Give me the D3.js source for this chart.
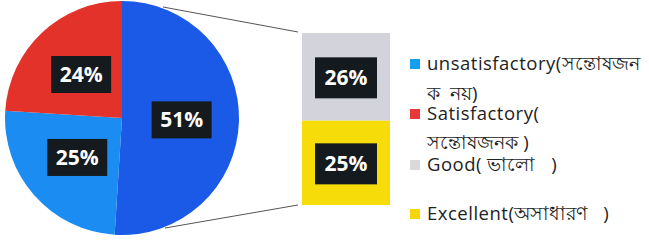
<!DOCTYPE html>
<html><head><meta charset="utf-8">
<script src="https://cdn.jsdelivr.net/npm/d3@7"></script>
<style>body{margin:0;background:#fff}svg{display:block}</style>
</head><body>
<script>
// Main pie: combined "other" slice + two categories
const pieLabels = ["Other", "unsatisfactory", "Satisfactory"];
const pieValues = [51, 25, 24];
const pieColors = ["#1a5ae6", "#1b8cf2", "#e2322a"];
// Secondary bar (breakdown of "Other")
const barLabels = ["Good", "Excellent"];
const barValues = [26, 25];
const barColors = ["#d3d3db", "#f6dc08"];
// Legend
const legendColors = ["#159ff0", "#e8383a", "#d9d9d9", "#f5d608"];
const legendLines = [
  ["unsatisfactory(সন্তোষজন", "ক  নয়)"],
  ["Satisfactory(", "সন্তোষজনক )"],
  ["Good( ভালো   )"],
  ["Excellent(অসাধারণ   )"]
];

const W = 649, H = 241;
const svg = d3.select("body").append("svg").attr("width", W).attr("height", H);

const cx = 122, cy = 118, R = 117;
const pie = d3.pie().sort(null).value(d => d)(pieValues);
const arc = d3.arc().innerRadius(0).outerRadius(R);
const labelArc = d3.arc().innerRadius(R * 0.51).outerRadius(R * 0.51);

const g = svg.append("g").attr("transform", `translate(${cx},${cy})`);
g.selectAll("path").data(pie).join("path")
  .attr("d", arc).attr("fill", (d, i) => pieColors[i]);

function labelBox(parent, x, y, text, w, h) {
  const gg = parent.append("g").attr("transform", `translate(${x},${y})`);
  gg.append("rect").attr("x", -w / 2).attr("y", -h / 2).attr("width", w).attr("height", h)
    .attr("fill", "#141a1e");
  gg.append("text").attr("text-anchor", "middle").attr("dy", "0.36em")
    .attr("fill", "#fff").attr("font-family", "Open Sans, Noto Sans, sans-serif")
    .attr("font-weight", 700).attr("font-size", 21).text(text);
}
pie.forEach((d, i) => {
  const [x, y] = labelArc.centroid(d);
  labelBox(g, x, y, d.value + "%", 60, 37);
});

// Secondary stacked bar
const bx0 = 302, bx1 = 390, byTop = 33, byBot = 205;
const barTotal = d3.sum(barValues);
const y = d3.scaleLinear().domain([0, barTotal]).range([byTop, byBot]);
let acc = 0;
const stack = barValues.map((v, i) => { const s = { y0: acc, y1: acc + v, v, i }; acc += v; return s; });
svg.selectAll("rect.bar").data(stack).join("rect").attr("class", "bar")
  .attr("x", bx0).attr("width", bx1 - bx0)
  .attr("y", d => y(d.y0)).attr("height", d => y(d.y1) - y(d.y0))
  .attr("fill", d => barColors[d.i]);
stack.forEach(d => {
  labelBox(svg, (bx0 + bx1) / 2, (y(d.y0) + y(d.y1)) / 2 + 1, d.v + "%", 62, 41);
});

// Connector lines
svg.append("line").attr("x1", 163).attr("y1", 7).attr("x2", bx0 - 4).attr("y2", byTop - 1)
  .attr("stroke", "#555").attr("stroke-width", 1);
svg.append("line").attr("x1", 165).attr("y1", 228).attr("x2", bx0 - 4).attr("y2", byBot)
  .attr("stroke", "#555").attr("stroke-width", 1);

// Legend
const lx = 410, lineYs = [[64, 94], [114, 143], [165], [214]];
legendLines.forEach((lines, i) => {
  svg.append("rect").attr("x", lx).attr("y", lineYs[i][0] - 5).attr("width", 10).attr("height", 10)
    .attr("fill", legendColors[i]);
  lines.forEach((t, j) => {
    const txt = svg.append("text").attr("x", lx + 17).attr("y", lineYs[i][j]).attr("dy", "0.35em")
      .attr("font-family", "Open Sans, Noto Sans, sans-serif").attr("font-size", 18.5)
      .attr("xml:space", "preserve")
      .attr("fill", "#222");
    const parts = t.match(/[\u0980-\u09FF][\u0980-\u09FF ]*[\u0980-\u09FF]|[\u0980-\u09FF]|[^\u0980-\u09FF]+/g);
    parts.forEach(p => {
      const isBn = /[\u0980-\u09FF]/.test(p);
      txt.append("tspan").attr("font-size", isBn ? 19 : 18.5)
        .attr("letter-spacing", isBn ? 0 : 0.5).text(p);
    });
  });
});
</script>
</body></html>
